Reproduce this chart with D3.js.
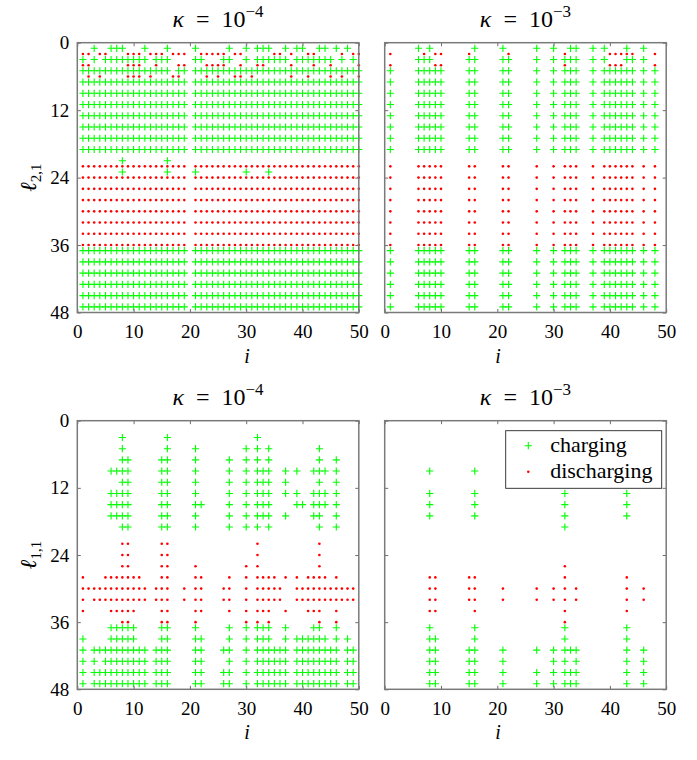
<!DOCTYPE html>
<html>
<head>
<meta charset="utf-8">
<script src="https://cdn.jsdelivr.net/npm/d3@7"></script>
<style>
  body { margin: 0; background: #fff; }
  svg { display: block; }
  text { font-family: "Liberation Serif", "DejaVu Serif", "Times New Roman", serif; fill: #000; }
</style>
</head>
<body>
<div id="chart"></div>
<script>
// tick labels
const xTicks = [0, 10, 20, 30, 40, 50];
const yTicks = [0, 12, 24, 36, 48];

// column sets
const allTL = [1,2,3,4,5,6,7,8,9,10,11,12,13,14,15,16,17,18,19,21,22,23,24,25,26,27,28,29,30,31,32,33,34,35,36,37,38,39,40,41,42,43,44,45,46,47,48,49,50];
const tlRow5 = [1,2,3,4,5,6,7,8,9,10,11,12,13,14,15,16,18,19,21,22,23,24,25,26,27,28,29,30,31,32,33,34,35,36,37,38,39,40,41,42,43,44,45,46,47,48,49,50];
const colsTR = [1,6,7,8,9,10,15,16,21,22,27,30,32,33,34,37,39,40,41,42,43,44,46,48];

// top left, kappa = 1e-4 (rows: l_{2,1})
const tlCharging = [
  [1, [3,6,7,8,12,16,21,27,30,32,33,34,37,39,40,43,44,46,48]],
  [3, [1,3,5,6,7,8,9,10,11,12,14,15,16,21,22,26,27,30,32,33,34,35,36,37,39,40,41,42,43,44,45,47,49]],
  [5, tlRow5], [7, allTL], [9, allTL], [11, allTL], [13, allTL], [15, allTL], [17, allTL], [19, allTL],
  [21, [8,16]],
  [23, [8,16,21,30,34]],
  [37, allTL], [39, allTL], [41, allTL], [43, allTL], [45, allTL], [47, allTL]
];
const tlDischarging = [
  [2, [1,2,4,5,9,10,11,13,14,15,17,18,19,22,23,24,25,26,28,29,35,36,38,41,42,47,49,50]],
  [4, [1,2,9,10,11,14,18,19,23,24,25,26,29,32,33,38,42,45,50]],
  [6, [2,4,9,10,11,13,17,18,23,25,28,29,31,38,41,45,47,50]],
  [22, allTL], [24, allTL], [26, allTL], [28, allTL], [30, allTL], [32, allTL], [34, allTL], [36, allTL]
];

// top right, kappa = 1e-3
const trCharging = [
  [1, [6,8,16,21,27,30,33,34,37,39,43,46]],
  [3, [6,7,8,15,16,21,22,27,30,32,33,34,37,39,43,44,46]],
  [5, colsTR], [7, colsTR], [9, colsTR], [11, colsTR], [13, colsTR], [15, colsTR], [17, colsTR], [19, colsTR],
  [37, colsTR], [39, colsTR], [41, colsTR], [43, colsTR], [45, colsTR], [47, colsTR]
];
const trDischarging = [
  [2, [1,7,9,10,15,22,32,40,41,42,43,44,48]],
  [4, [1,9,10,32,40,41,42,48]],
  [22, colsTR], [24, colsTR], [26, colsTR], [28, colsTR], [30, colsTR], [32, colsTR], [34, colsTR], [36, colsTR]
];

// bottom left, kappa = 1e-4 (rows: l_{1,1})
const blCharging = [
  [3, [8,16,32]],
  [5, [8,16,21,30,32,34,43]],
  [7, [8,9,15,16,21,27,30,32,34,43,46]],
  [9, [6,7,8,9,15,16,21,27,30,32,33,34,37,39,42,43,44,46]],
  [11, [8,9,15,16,21,27,30,32,33,34,37,43,46]],
  [13, [6,7,8,9,15,16,21,27,30,32,33,34,37,39,42,43,44,46]],
  [15, [6,7,8,9,15,16,21,22,27,30,32,33,34,39,40,42,43,44,46]],
  [17, [6,7,8,9,15,16,21,27,30,32,33,34,37,42,43,46]],
  [19, [8,9,15,16,21,27,30,32,34,43,46]],
  [37, [6,7,8,9,10,15,16,21,27,30,32,33,34,37,42,43,46]],
  [39, [1,6,7,8,9,10,15,16,21,22,27,30,32,33,34,37,39,40,41,42,43,44,46,48]],
  [41, [1,3,4,5,6,7,8,9,10,11,12,14,15,16,21,22,26,27,30,32,33,34,35,36,37,39,40,41,42,43,44,45,46,48,49]],
  [43, [1,3,5,6,7,8,9,10,11,12,14,15,16,21,22,27,30,32,33,34,35,36,37,39,40,41,42,43,44,45,46,48,49]],
  [45, [1,3,4,5,6,7,8,9,10,11,12,14,15,16,21,22,26,27,30,32,33,34,35,36,37,39,40,41,42,43,44,45,46,48,49]],
  [47, [1,3,4,5,6,7,8,9,10,11,12,14,15,16,21,22,26,27,30,32,33,34,35,36,37,39,40,41,42,43,44,45,46,48,49]]
];
const blDischarging = [
  [22, [8,9,15,16,32,43]],
  [24, [8,9,15,16,32,43]],
  [26, [8,9,15,16,21,30,32,43]],
  [28, [1,5,6,7,8,9,10,11,15,16,21,22,27,30,32,33,34,35,37,39,41,42,43,44,46]],
  [30, [1,2,3,4,5,6,7,8,9,10,11,12,14,15,16,19,21,22,26,27,30,32,33,34,35,36,39,40,41,42,43,44,45,46,47,48,49]],
  [32, [1,3,4,5,6,7,8,9,10,11,12,14,15,16,19,21,22,26,27,30,32,33,34,35,36,39,40,41,42,43,44,45,46,47,48,49]],
  [34, [1,6,7,8,9,10,15,16,21,22,27,30,32,33,34,37,41,42,43,46]],
  [36, [8,9,15,16,21,30,32,34,43,46]]
];

// bottom right, kappa = 1e-3
const brCharging = [
  [9, [8,16]],
  [13, [8,16,32,43]],
  [15, [8,16,32,43]],
  [17, [8,16,32,43]],
  [19, [32]],
  [37, [8,16,32,43]],
  [39, [8,9,16,32,43]],
  [41, [8,9,15,16,21,27,30,32,33,34,43,46]],
  [43, [8,9,15,16,21,30,32,34,43,46]],
  [45, [8,9,15,16,21,27,30,32,33,34,43,46]],
  [47, [8,9,15,16,21,27,30,32,33,34,43,46]]
];
const brDischarging = [
  [26, [32]],
  [28, [8,9,15,16,32,43]],
  [30, [8,9,15,16,21,27,30,32,34,43,46]],
  [32, [8,9,15,16,21,27,30,32,34,43,46]],
  [34, [8,9,16,32,43]],
  [36, [32]]
];

const width = 697;
const height = 760;
const serif = "'Liberation Serif', 'DejaVu Serif', 'Times New Roman', serif";

const svg = d3.select("#chart")
  .append("svg")
  .attr("width", width)
  .attr("height", height)
  .attr("font-family", serif);

const panels = [
  { charge: tlCharging, discharge: tlDischarging, x0: 77.3, x1: 358.8, y0: 42.7, y1: 312.5, exp: "\u22124", ylab: "2,1", left: true, iX: 247 },
  { charge: trCharging, discharge: trDischarging, x0: 384.7, x1: 666.2, y0: 42.7, y1: 312.5, exp: "\u22123", ylab: null, left: false, iX: 498 },
  { charge: blCharging, discharge: blDischarging, x0: 77.3, x1: 358.8, y0: 420.7, y1: 689.3, exp: "\u22124", ylab: "1,1", left: true, iX: 247 },
  { charge: brCharging, discharge: brDischarging, x0: 384.7, x1: 666.2, y0: 420.7, y1: 689.3, exp: "\u22123", ylab: null, left: false, iX: 498, legend: true }
];

const flatten = rows => rows.flatMap(([l, cols]) => cols.map(i => ({ i, l })));
const plusPath = "M-3.6,0H3.6M0,-3.6V3.6";

panels.forEach(p => {
  const x = d3.scaleLinear().domain([0, 50]).range([p.x0, p.x1]);
  const y = d3.scaleLinear().domain([0, 48]).range([p.y0, p.y1]);
  const g = svg.append("g");

  // marks
  g.append("g")
    .selectAll("path")
    .data(flatten(p.charge))
    .join("path")
    .attr("d", plusPath)
    .attr("transform", d => `translate(${x(d.i)},${y(d.l)})`)
    .attr("stroke", "#00ff00")
    .attr("stroke-width", 1.1)
    .attr("fill", "none");

  g.append("g")
    .selectAll("circle")
    .data(flatten(p.discharge))
    .join("circle")
    .attr("cx", d => x(d.i))
    .attr("cy", d => y(d.l))
    .attr("r", 1.3)
    .attr("fill", "#ff0000");

  // axes (ticks point inward, mirrored on all sides)
  const tickLen = -3.5;
  const styleAxis = a => {
    a.attr("font-family", serif).attr("font-size", 19);
    a.select(".domain").remove();
    a.selectAll(".tick line").attr("stroke", "#6e6e6e").attr("stroke-width", 1);
    a.selectAll("text").attr("fill", "#000");
  };
  g.append("g")
    .attr("transform", `translate(0,${p.y1})`)
    .call(d3.axisBottom(x).tickValues(xTicks).tickSize(tickLen).tickPadding(12))
    .call(styleAxis);
  g.append("g")
    .attr("transform", `translate(0,${p.y0})`)
    .call(d3.axisTop(x).tickValues(xTicks).tickSize(tickLen).tickFormat(""))
    .call(styleAxis);
  g.append("g")
    .attr("transform", `translate(${p.x0},0)`)
    .call(d3.axisLeft(y).tickValues(yTicks).tickSize(tickLen).tickPadding(8)
      .tickFormat(p.left ? d3.format("d") : ""))
    .call(styleAxis);
  g.append("g")
    .attr("transform", `translate(${p.x1},0)`)
    .call(d3.axisRight(y).tickValues(yTicks).tickSize(tickLen).tickFormat(""))
    .call(styleAxis);

  g.append("rect")
    .attr("x", p.x0)
    .attr("y", p.y0)
    .attr("width", p.x1 - p.x0)
    .attr("height", p.y1 - p.y0)
    .attr("fill", "none")
    .attr("stroke", "#7a7a7a")
    .attr("stroke-width", 1.5);

  // title
  const t = g.append("text")
    .attr("x", (p.x0 + p.x1) / 2)
    .attr("y", p.y0 - 16)
    .attr("text-anchor", "middle")
    .attr("font-size", 24);
  t.append("tspan").attr("font-style", "italic").text("\u03ba");
  t.append("tspan").text("\u2002=\u200210");
  t.append("tspan").attr("dy", -10).attr("font-size", 17).text(p.exp);

  // x label
  g.append("text")
    .attr("x", p.iX)
    .attr("y", p.y1 + 50)
    .attr("text-anchor", "middle")
    .attr("font-style", "italic")
    .attr("font-size", 20)
    .text("i");

  // y label
  if (p.ylab) {
    const cy = (p.y0 + p.y1) / 2;
    const yl = g.append("text")
      .attr("transform", `translate(36,${cy}) rotate(-90)`)
      .attr("text-anchor", "middle")
      .attr("font-size", 23);
    yl.append("tspan").attr("font-style", "italic").text("\u2113");
    yl.append("tspan").attr("dy", 5).attr("font-size", 15).text(p.ylab);
  }

  if (p.legend) {
    const lg = g.append("g").attr("transform", "translate(505.7,430.7)");
    lg.append("rect")
      .attr("width", 156)
      .attr("height", 57.6)
      .attr("fill", "#fff")
      .attr("stroke", "#262626")
      .attr("stroke-width", 0.9);
    lg.append("path")
      .attr("d", plusPath)
      .attr("transform", "translate(22.6,15)")
      .attr("stroke", "#00ff00")
      .attr("stroke-width", 1.1);
    lg.append("circle")
      .attr("cx", 22.6)
      .attr("cy", 41)
      .attr("r", 1.3)
      .attr("fill", "#ff0000");
    lg.append("text").attr("x", 44.5).attr("y", 21).attr("font-size", 22).text("charging");
    lg.append("text").attr("x", 44.5).attr("y", 47).attr("font-size", 22).text("discharging");
  }
});
</script>
</body>
</html>
